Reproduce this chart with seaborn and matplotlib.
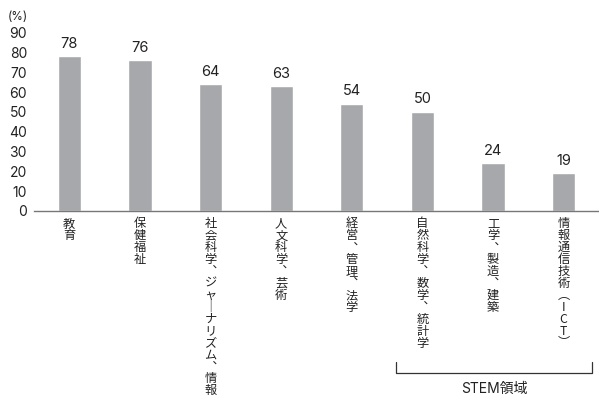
import matplotlib
matplotlib.use("Agg")
import matplotlib.pyplot as plt
import seaborn as sns
import pandas as pd
from matplotlib.transforms import blended_transform_factory

categories = ["教育", "保健福祉", "社会科学、ジャーナリズム、情報", "人文科学、芸術",
              "経営、管理、法学", "自然科学、数学、統計学", "工学、製造、建築", "情報通信技術（ICT）"]
values = [78, 76, 64, 63, 54, 50, 24, 19]
yticks = [0, 10, 20, 30, 40, 50, 60, 70, 80, 90]
unit_label = "(%)"
group_label = "STEM領域"

sns.set_theme(style="white")
plt.rcParams['font.family'] = ['Inter', 'Noto Sans CJK JP', 'DejaVu Sans']

df = pd.DataFrame({"cat": categories, "val": values})

fig = plt.figure(figsize=(5.99, 3.97), dpi=100)
ax = fig.add_axes([34/599, (397-211)/397, (599-34)/599, 178.3/397])

sns.barplot(data=df, x="cat", y="val", color="#a7a8ab", width=0.33, saturation=1, ax=ax)
ax.set_xlim(-0.5, len(categories) - 0.5)
ax.set_ylim(0, 90)
ax.set_yticks(yticks)
ax.set_xlabel("")
ax.set_ylabel("")
for s in ["top", "right", "left"]:
    ax.spines[s].set_visible(False)
ax.spines["bottom"].set_color("#777777")
ax.spines["bottom"].set_linewidth(1.0)
ax.tick_params(axis="both", length=0)
ax.tick_params(axis="y", pad=5, labelsize=10, labelcolor="#222222")
ax.set_xticks(range(len(categories)))
ax.set_xticklabels([""] * len(categories))

# vertical (tategaki) category labels, one glyph per slot
vmap = {"、": "︑", "ー": "｜", "（": "︵", "）": "︶"}
step_pt = 11.9 * 72 / 100
first_pt = 13 * 72 / 100
for i, lab in enumerate(categories):
    for k, ch in enumerate(lab):
        ax.annotate(vmap.get(ch, ch), xy=(i, 0), xycoords=("data", "axes fraction"),
                    xytext=(0, -(first_pt + k * step_pt)), textcoords="offset points",
                    ha="center", va="center", fontsize=8.8, color="#222222",
                    family=['Noto Sans CJK JP', 'DejaVu Sans'], annotation_clip=False)

for i, v in enumerate(values):
    ax.annotate(str(v), (i, v), xytext=(0, 4), textcoords="offset points",
                ha="center", va="bottom", fontsize=10.5, color="#222222")

fig.text(8/599, 1 - 17/397, unit_label, fontsize=8.5, va="center", ha="left", color="#222222")

# STEM bracket
tr = blended_transform_factory(ax.transData, fig.transFigure)
x0, x1 = 4.63, 7.40
ytop = 1 - 362/397
ybot = 1 - 373/397
ax.plot([x0, x0, x1, x1], [ytop, ybot, ybot, ytop], transform=tr, color="#333333",
        lw=0.9, clip_on=False)
ax.text((x0 + x1) / 2, 1 - 389/397, group_label, transform=tr, ha="center", va="center",
        fontsize=10, color="#222222", clip_on=False)

fig.savefig("out.png", dpi=100)
